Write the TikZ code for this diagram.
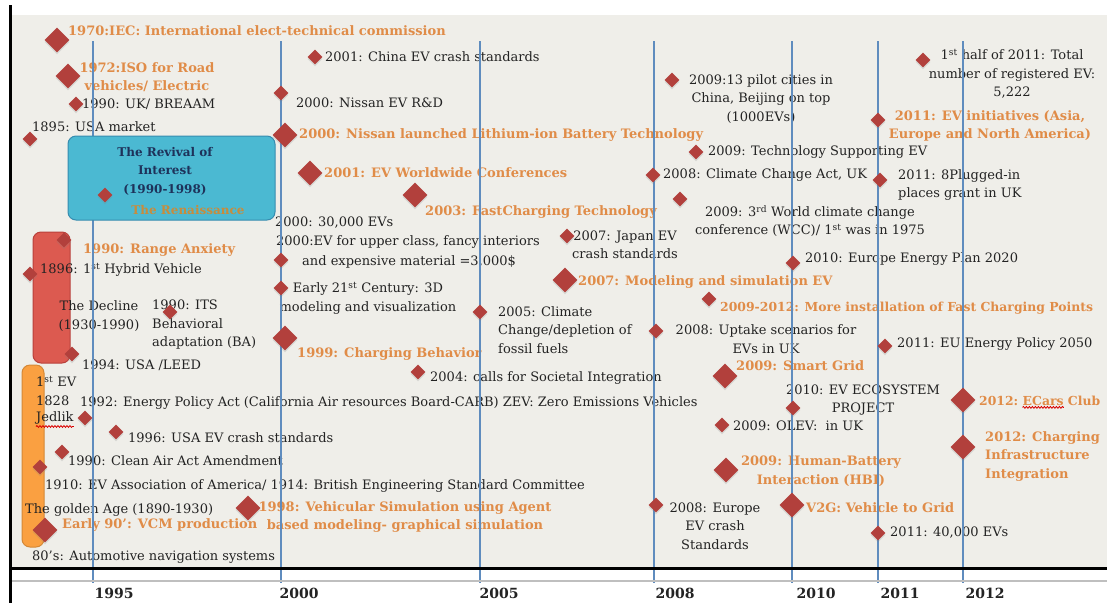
\documentclass[tikz,border=0pt]{standalone}
\usepackage{fontspec}
\setmainfont{DejaVu Serif}
\usetikzlibrary{shapes.geometric,shadows,decorations.pathmorphing}
\definecolor{bgbeige}{RGB}{239,238,233}
\definecolor{yblue}{RGB}{95,140,190}
\definecolor{dmred}{RGB}{178,64,60}
\definecolor{txtorange}{RGB}{224,140,72}
\definecolor{txtblack}{RGB}{35,35,35}
\definecolor{cyanfill}{RGB}{75,185,210}
\definecolor{cyanline}{RGB}{55,140,175}
\definecolor{navytxt}{RGB}{30,50,90}
\definecolor{redfill}{RGB}{220,90,80}
\definecolor{redline}{RGB}{185,65,60}
\definecolor{orfill}{RGB}{250,160,65}
\definecolor{renais}{RGB}{200,140,60}
\tikzset{
  dm/.style={diamond, fill=dmred, draw=none, inner sep=0pt, minimum size=15,
    drop shadow={shadow xshift=0pt, shadow yshift=-2pt, opacity=0.2}},
  dL/.style={dm, minimum size=25},
  tb/.style={text=txtblack, inner sep=0pt, font=\fontsize{13}{18.5}\selectfont},
  tor/.style={text=txtorange, inner sep=0pt, font=\bfseries\fontsize{13}{18.5}\selectfont},
  torsm/.style={tor, font=\bfseries\fontsize{12.4}{18.5}\selectfont},
  yline/.style={draw=yblue, line width=2.5pt},
  yearlbl/.style={text=txtblack, inner sep=0pt, font=\bfseries\fontsize{14}{16}\selectfont},
  era/.style={rounded corners=8pt, line width=1pt},
  spell/.style={draw=red!85!black, line width=0.8pt, decorate,
    decoration={snake, amplitude=0.9pt, segment length=3pt}},
}
\begin{document}
\begin{tikzpicture}[x=1pt,y=-1pt]
\useasboundingbox (0,0) rectangle (1107,603);
\fill[white] (0,0) rectangle (1107,603);
\fill[bgbeige] (12,15) rectangle (1107,568);

% ---------- era boxes (behind texts) ----------
\draw[era, fill=redfill, draw=redline] (33,232) rectangle (70,363);
\draw[era, fill=orfill, draw=orfill!85!black] (22,365) rectangle (44,547);

% ---------- texts (black) ----------
\node[tb,anchor=west] (b1) at (325,57) {2001: China EV crash standards};
\node[tb,anchor=west] (b2) at (296,103) {2000: Nissan EV R\&D};
\node[tb,anchor=west] (b3) at (82,104) {1990: UK/ BREAAM};
\node[tb,anchor=west] (b4) at (32,127) {1895: USA market};
\node[tb,anchor=west] (b5) at (275,223) {2000: 30,000 EVs};
\node[tb,anchor=west] (b6) at (276,242) {2000:EV for upper class, fancy interiors};
\node[tb,anchor=west] (b7) at (302,262) {and expensive material =3,000\$};
\node[tb,align=center] (b8) at (368,298) {Early 21\textsuperscript{st} Century: 3D\\modeling and visualization};
\node[tb,anchor=west,align=left] (b9) at (498,330) {2005: Climate\\Change/depletion of\\fossil fuels};
\node[tb,anchor=west] (b10) at (430,378) {2004: calls for Societal Integration};
\node[tb,align=center] (b11) at (625,245) {2007: Japan EV\\crash standards};
\node[tb,align=center] (b12) at (761,99) {2009:13 pilot cities in\\China, Beijing on top\\(1000EVs)};
\node[tb,anchor=west] (b13) at (708,152) {2009: Technology Supporting EV};
\node[tb,anchor=west] (b14) at (663,175) {2008: Climate Change Act, UK};
\node[tb,align=center] (b15) at (1012,74) {1\textsuperscript{st} half of 2011: Total\\number of registered EV:\\5,222};
\node[tb,anchor=west,align=left] (b16) at (898,185) {2011: 8Plugged-in\\places grant in UK};
\node[tb,align=center] (b17) at (810,221) {2009: 3\textsuperscript{rd} World climate change\\conference (WCC)/ 1\textsuperscript{st} was in 1975};
\node[tb,anchor=west] (b18) at (805,259) {2010: Europe Energy Plan 2020};
\node[tb,align=center] (b19) at (766,339) {2008: Uptake scenarios for\\EVs in UK};
\node[tb,anchor=west] (b20) at (897,344) {2011: EU Energy Policy 2050};
\node[tb,align=center] (b21) at (863,400) {2010: EV ECOSYSTEM\\PROJECT};
\node[tb,anchor=west] (b22) at (733,426) {2009: OLEV:\ \ in UK};
\node[tb,align=center] (b23) at (715,526) {2008: Europe\\EV crash\\Standards};
\node[tb,anchor=west] (b24) at (890,533) {2011: 40,000 EVs};
\node[tb,anchor=west] (b25) at (40,270) {1896: 1\textsuperscript{st} Hybrid Vehicle};
\node[tb,align=center] (b26) at (99,316) {The Decline\\(1930-1990)};
\node[tb,anchor=west,align=left] (b27) at (152,325) {1990: ITS\\Behavioral\\adaptation (BA)};
\node[tb,anchor=west] (b28) at (82,365) {1994: USA /LEED};
\node[tb,anchor=west,align=left] (b29) at (36,391) {1\textsuperscript{st} EV\\1828};
\node[tb,anchor=west] (b29j) at (36,418) {Jedlik};
\node[tb,anchor=west] (b30) at (80,403) {1992: Energy Policy Act (California Air resources Board-CARB) ZEV: Zero Emissions Vehicles};
\node[tb,anchor=west] (b31) at (128,438) {1996: USA EV crash standards};
\node[tb,anchor=west] (b32) at (68,461) {1990: Clean Air Act Amendment};
\node[tb,anchor=west] (b33) at (45,486) {1910: EV Association of America/ 1914: British Engineering Standard Committee};
\node[tb,anchor=west] (b34) at (25,510) {The golden Age (1890-1930)};
\node[tb,anchor=west] (b35) at (32,557) {80's: Automotive navigation systems};

% ---------- texts (orange) ----------
\node[tor,anchor=west] (o1) at (68,31) {1970:IEC: International elect-technical commission};
\node[tor,align=center] (o2) at (147,77) {1972:ISO for Road\\vehicles/ Electric};
\node[tor,anchor=west] (o3) at (299,135) {2000: Nissan launched Lithium-ion Battery Technology};
\node[tor,anchor=west] (o4) at (324,173) {2001: EV Worldwide Conferences};
\node[tor,anchor=west] (o5) at (425,212) {2003: FastCharging Technology};
\node[tor,anchor=west] (o6) at (83,250) {1990: Range Anxiety};
\node[tor,anchor=west] (o7) at (297,354) {1999: Charging Behavior};
\node[tor,anchor=west] (o8) at (578,282) {2007: Modeling and simulation EV};
\node[torsm,anchor=west] (o9) at (720,308) {2009-2012: More installation of Fast Charging Points};
\node[tor,anchor=west] (o10) at (736,366) {2009: Smart Grid};
\node[tor,align=center] (o11) at (990,126) {2011: EV initiatives (Asia,\\Europe and North America)};
\node[torsm,anchor=base west] (o12a) at (979,405) {2012:};
\node[torsm,anchor=base west] (o12b) at ([xshift=4pt]o12a.base east) {ECars};
\node[torsm,anchor=base west] (o12c) at ([xshift=4pt]o12b.base east) {Club};
\node[tor,anchor=west,align=left] (o13) at (985,456) {2012: Charging\\Infrastructure\\Integration};
\node[tor,align=center] (o14) at (821,471) {2009: Human-Battery\\Interaction (HBI)};
\node[tor,anchor=west] (o15) at (806,508) {V2G: Vehicle to Grid};
\node[tor,align=center] (o16) at (405,517) {1998: Vehicular Simulation using Agent\\based modeling- graphical simulation};
\node[tor,anchor=west] (o17) at (62,525) {Early 90': VCM production};

% spell-check underlines
\draw[spell] ([yshift=-2pt]o12b.south west) -- ([yshift=-2pt]o12b.south east);
\draw[spell] ([yshift=-2pt]b29j.south west) -- ([yshift=-2pt]b29j.south east);

% ---------- year lines ----------
\foreach \yx/\nm in {93/l95,281/l00,480/l05,654/l08,792/l10,878/l11,963/l12}{
  \coordinate (\nm top) at (\yx,41);
  \coordinate (\nm bot) at (\yx,583);
  \draw[yline] (\nm top) -- (\nm bot);
}

% ---------- axis ----------
\coordinate (axl) at (10,568);
\coordinate (axr) at (1107,568);
\coordinate (gl) at (10,581);
\coordinate (gr) at (1107,581);
\coordinate (vt) at (10,5);
\coordinate (vb) at (10,603);
\draw[black!25, line width=1.5pt] (gl) -- (gr);
\draw[black, line width=3pt] (axl) -- (axr);
\draw[black, line width=3pt] (vt) -- (vb);

\node[yearlbl] (y95) at (114,593) {1995};
\node[yearlbl] (y00) at (299,593) {2000};
\node[yearlbl] (y05) at (499,593) {2005};
\node[yearlbl] (y08) at (675,593) {2008};
\node[yearlbl] (y10) at (816,593) {2010};
\node[yearlbl] (y11) at (900,593) {2011};
\node[yearlbl] (y12) at (985,593) {2012};

% ---------- revival box (over the year line) ----------
\draw[era, fill=cyanfill, draw=cyanline] (68,136) rectangle (275,220);
\node[text=navytxt, inner sep=0pt, align=center, font=\bfseries\fontsize{12}{18.5}\selectfont] (rev) at (165,171) {The Revival of\\Interest\\(1990-1998)};
\node[text=renais, inner sep=0pt, font=\bfseries\fontsize{12}{14}\selectfont] (ren) at (188,210) {The Renaissance};

% ---------- diamonds ----------
\foreach \px/\py/\nm in {57/40/D1,68/76/D2,285/135/D3,310/173/D4,415/195/D5,285/338/D6,565/280/D7,725/376/D8,726/470/D9,792/505/D10,963/400/D11,963/447/D12,248/508/D13,45/530/D14}{
  \node[dL] (\nm) at (\px,\py) {};
}
\foreach \px/\py/\nm in {76/104/d1,30/139/d2,105/195/d3,315/57/d4,281/93/d5,281/260/d6,281/288/d7,480/312/d8,418/372/d9,567/236/d10,672/80/d11,696/152/d12,653/175/d13,878/120/d14,923/60/d15,880/180/d16,680/199/d17,793/263/d18,709/299/d19,656/331/d20,885/346/d21,793/408/d22,722/425/d23,656/505/d24,878/533/d25,64/240/d26,30/274/d27,170/312/d28,72/354/d29,85/418/d30,116/432/d31,62/452/d32,40/467/d33}{
  \node[dm] (\nm) at (\px,\py) {};
}
\end{tikzpicture}
\end{document}
